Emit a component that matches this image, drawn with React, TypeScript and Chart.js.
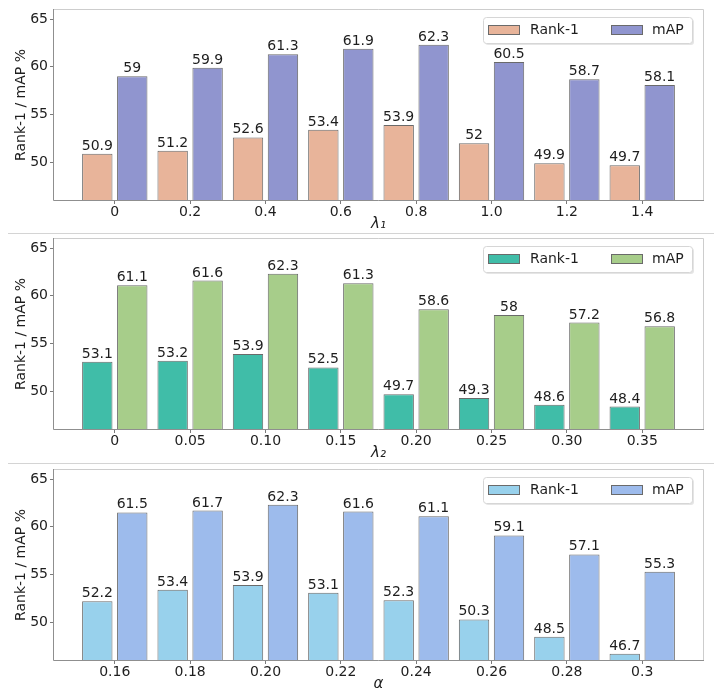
import React, { useEffect, useRef } from 'react';
import { Chart, registerables } from 'chart.js';

Chart.register(...registerables);

// ---------- data ----------
const lambda1Labels = ['0', '0.2', '0.4', '0.6', '0.8', '1.0', '1.2', '1.4'];
const lambda1Rank1 = [50.9, 51.2, 52.6, 53.4, 53.9, 52, 49.9, 49.7];
const lambda1MAP = [59, 59.9, 61.3, 61.9, 62.3, 60.5, 58.7, 58.1];

const lambda2Labels = ['0', '0.05', '0.10', '0.15', '0.20', '0.25', '0.30', '0.35'];
const lambda2Rank1 = [53.1, 53.2, 53.9, 52.5, 49.7, 49.3, 48.6, 48.4];
const lambda2MAP = [61.1, 61.6, 62.3, 61.3, 58.6, 58, 57.2, 56.8];

const alphaLabels = ['0.16', '0.18', '0.20', '0.22', '0.24', '0.26', '0.28', '0.3'];
const alphaRank1 = [52.2, 53.4, 53.9, 53.1, 52.3, 50.3, 48.5, 46.7];
const alphaMAP = [61.5, 61.7, 62.3, 61.6, 61.1, 59.1, 57.1, 55.3];

const yTicks = [50, 55, 60, 65];
const seriesNames = ['Rank-1', 'mAP'];

const Y_MIN = 45.95;
const Y_MAX = 66.05;
const X_PAD = 0.82;
const FONT = 'DejaVu Sans';
const TEXT = '#1e1e1e';

Chart.defaults.font.family = FONT;

// ---------- plugins ----------
const framePlugin = {
  id: 'frame',
  afterDatasetsDraw(chart: any) {
    const { ctx, chartArea: a } = chart;
    ctx.save();
    ctx.lineWidth = 1;
    ctx.strokeStyle = '#cdcdcd';
    ctx.beginPath();
    ctx.moveTo(a.left, a.top + 0.5);
    ctx.lineTo(a.right - 0.5, a.top + 0.5);
    ctx.lineTo(a.right - 0.5, a.bottom);
    ctx.stroke();
    ctx.strokeStyle = '#8f8f8f';
    ctx.beginPath();
    ctx.moveTo(a.left + 0.5, a.top);
    ctx.lineTo(a.left + 0.5, a.bottom - 0.5);
    ctx.lineTo(a.right, a.bottom - 0.5);
    ctx.stroke();
    ctx.restore();
  },
};

const valueLabelPlugin = {
  id: 'valueLabels',
  afterDatasetsDraw(chart: any) {
    const { ctx } = chart;
    ctx.save();
    ctx.font = `14px "${FONT}"`;
    ctx.fillStyle = TEXT;
    ctx.textAlign = 'center';
    ctx.textBaseline = 'alphabetic';
    chart.data.datasets.forEach((ds: any, di: number) => {
      const meta = chart.getDatasetMeta(di);
      meta.data.forEach((el: any, i: number) => {
        const v = ds.data[i].y;
        ctx.fillText(String(v), el.x, el.y - 4);
      });
    });
    ctx.restore();
  },
};

const legendPlugin = {
  id: 'boxLegend',
  afterDraw(chart: any) {
    const { ctx, chartArea: a } = chart;
    const w = 209;
    const h = 26;
    const left = a.right - 12 - w;
    const top = a.top + 8;
    const r = 3;
    const rr = (x: number, y: number) => {
      ctx.beginPath();
      ctx.moveTo(x + r, y);
      ctx.lineTo(x + w - r, y);
      ctx.quadraticCurveTo(x + w, y, x + w, y + r);
      ctx.lineTo(x + w, y + h - r);
      ctx.quadraticCurveTo(x + w, y + h, x + w - r, y + h);
      ctx.lineTo(x + r, y + h);
      ctx.quadraticCurveTo(x, y + h, x, y + h - r);
      ctx.lineTo(x, y + r);
      ctx.quadraticCurveTo(x, y, x + r, y);
      ctx.closePath();
    };
    ctx.save();
    rr(left + 2, top + 2);
    ctx.fillStyle = 'rgba(0,0,0,0.10)';
    ctx.fill();
    rr(left + 0.5, top + 0.5);
    ctx.fillStyle = '#ffffff';
    ctx.fill();
    ctx.strokeStyle = '#d6d6d6';
    ctx.lineWidth = 1;
    ctx.stroke();
    const patchX = [left + 5, left + 128];
    const textX = [left + 47, left + 169];
    ctx.font = `14px "${FONT}"`;
    ctx.textBaseline = 'middle';
    ctx.textAlign = 'left';
    chart.data.datasets.forEach((ds: any, i: number) => {
      ctx.fillStyle = ds.backgroundColor;
      ctx.fillRect(patchX[i] + 0.5, top + 8.5, 31, 9);
      ctx.strokeStyle = ds.borderColor;
      ctx.strokeRect(patchX[i] + 0.5, top + 8.5, 31, 9);
      ctx.fillStyle = TEXT;
      ctx.fillText(ds.label, textX[i], top + 13.5);
    });
    ctx.restore();
  },
};

// ---------- panel ----------
type PanelProps = {
  labels: string[];
  rank: number[];
  map: number[];
  colors: [string, string];
  xTitle: string;
  top: number;
  height: number;
  padTop: number;
};

function Panel({ labels, rank, map, colors, xTitle, top, height, padTop }: PanelProps) {
  const ref = useRef<HTMLCanvasElement | null>(null);
  useEffect(() => {
    if (!ref.current) return;
    const axisH = height - padTop - 192;
    const titlePadBottom = axisH - 23 - 9;
    const mk = (vals: number[], i: number) => ({
      label: seriesNames[i],
      data: vals.map((v, k) => ({ x: k, y: v })),
      backgroundColor: colors[i],
      borderColor: '#6a6a6a',
      borderWidth: 1,
      borderSkipped: false,
      base: Y_MIN,
      barPercentage: 0.869,
      categoryPercentage: 0.928,
    });
    const chart = new Chart(ref.current, {
      type: 'bar',
      data: { datasets: [mk(rank, 0), mk(map, 1)] as any },
      options: {
        animation: false,
        responsive: false,
        layout: { padding: { top: padTop, right: 18, left: 0, bottom: 0 } },
        plugins: { legend: { display: false }, tooltip: { enabled: false } },
        scales: {
          x: {
            type: 'linear',
            min: -X_PAD,
            max: labels.length - 1 + X_PAD,
            offset: false,
            grid: { display: true, offset: false, drawOnChartArea: false, drawTicks: true, tickLength: 3, color: '#7a7a7a' },
            border: { display: false },
            afterBuildTicks: (s: any) => {
              s.ticks = labels.map((_, i) => ({ value: i }));
            },
            afterFit: (s: any) => {
              s.height = axisH;
              s.paddingLeft = 0;
              s.paddingRight = 0;
            },
            ticks: {
              autoSkip: false,
              maxRotation: 0,
              padding: 0,
              color: TEXT,
              font: { size: 14, family: FONT },
              callback: (v: any) => labels[Math.round(Number(v))] ?? '',
            },
            title: {
              display: true,
              text: xTitle,
              color: TEXT,
              font: { size: 15, family: FONT, style: 'italic' },
              padding: { top: 0, bottom: titlePadBottom },
            },
          },
          y: {
            min: Y_MIN,
            max: Y_MAX,
            grid: { display: true, offset: false, drawOnChartArea: false, drawTicks: true, tickLength: 3, color: '#7a7a7a' },
            border: { display: false },
            afterBuildTicks: (s: any) => {
              s.ticks = yTicks.map((v) => ({ value: v }));
            },
            afterFit: (s: any) => {
              s.width = 53;
              s.paddingTop = 0;
              s.paddingBottom = 0;
            },
            ticks: {
              padding: 2,
              color: TEXT,
              font: { size: 14, family: FONT },
              callback: (v: any) => String(v),
            },
            title: {
              display: true,
              text: 'Rank-1 / mAP %',
              color: TEXT,
              font: { size: 14, family: FONT },
              padding: { top: 13, bottom: 0 },
            },
          },
        },
      } as any,
      plugins: [framePlugin, valueLabelPlugin, legendPlugin],
    });
    return () => chart.destroy();
  }, []);
  return (
    <div style={{ position: 'absolute', left: 0, top, width: 722, height }}>
      <canvas ref={ref} width={722} height={height} style={{ width: 722, height, display: 'block' }} />
    </div>
  );
}

export default function App() {
  return (
    <div style={{ position: 'absolute', left: 0, top: 0, width: 722, height: 696, background: '#fff', overflow: 'hidden' }}>
      <Panel labels={lambda1Labels} rank={lambda1Rank1} map={lambda1MAP} colors={['#e8b49a', '#9095cf']} xTitle="λ₁" top={0} height={234} padTop={9} />
      <Panel labels={lambda2Labels} rank={lambda2Rank1} map={lambda2MAP} colors={['#40bda8', '#a7cd8a']} xTitle="λ₂" top={234} height={230} padTop={4} />
      <Panel labels={alphaLabels} rank={alphaRank1} map={alphaMAP} colors={['#98d1ec', '#9dbbec']} xTitle="α" top={464} height={232} padTop={5} />
      <div style={{ position: 'absolute', left: 8, top: 233, width: 706, height: 1, background: '#d4d4d4' }} />
      <div style={{ position: 'absolute', left: 8, top: 463, width: 706, height: 1, background: '#d4d4d4' }} />
    </div>
  );
}
